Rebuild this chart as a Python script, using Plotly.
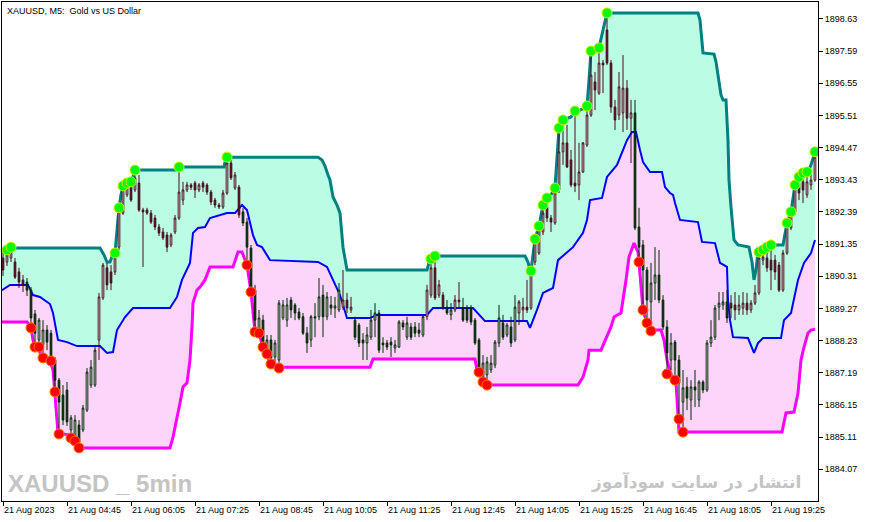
import numpy as np
import plotly.graph_objects as go

# ---------------- data ----------------
tick_pos = [0, 16, 32, 48, 64, 80, 96, 112, 128, 144, 160, 176, 192]
tick_labels = ["21 Aug 2023", "21 Aug 04:45", "21 Aug 06:05", "21 Aug 07:25", "21 Aug 08:45",
               "21 Aug 10:05", "21 Aug 11:25", "21 Aug 12:45", "21 Aug 14:05", "21 Aug 15:25",
               "21 Aug 16:45", "21 Aug 18:05", "21 Aug 19:25"]
price_ticks = [1884.07, 1885.11, 1886.15, 1887.19, 1888.23, 1889.27, 1890.31, 1891.35,
               1892.39, 1893.43, 1894.47, 1895.51, 1896.55, 1897.59, 1898.63]

bars = list(range(204))

opens = [
1890.90, 1890.77, 1890.90, 1890.77, 1890.45, 1890.19, 1890.12, 1889.86, 1889.09, 1888.25,
1888.09, 1888.57, 1888.47, 1887.60, 1886.95, 1886.47, 1886.63, 1885.34, 1885.08, 1885.50,
1885.34, 1885.98, 1886.79, 1886.79, 1888.25, 1889.61, 1890.58, 1890.45, 1890.45, 1891.25,
1892.35, 1892.94, 1893.29, 1893.10, 1893.32, 1892.45, 1892.45, 1892.35, 1892.19, 1891.90,
1891.74, 1891.64, 1891.32, 1891.74, 1892.19, 1892.77, 1893.10, 1893.26, 1893.32, 1893.10,
1893.32, 1893.26, 1893.03, 1892.77, 1892.61, 1892.55, 1893.00, 1893.97, 1893.16, 1893.19,
1892.39, 1892.06, 1891.22, 1889.86, 1888.57, 1888.89, 1887.92, 1888.25, 1887.70, 1887.60,
1888.96, 1888.89, 1889.54, 1889.38, 1889.15, 1889.00, 1888.47, 1888.25, 1889.00, 1889.00,
1889.70, 1889.00, 1889.38, 1889.28, 1889.22, 1889.31, 1889.54, 1889.22, 1888.89, 1888.73,
1888.25, 1888.15, 1888.34, 1888.89, 1889.12, 1888.15, 1888.15, 1888.18, 1887.99, 1888.02,
1888.80, 1888.34, 1888.67, 1888.67, 1888.57, 1888.41, 1889.00, 1889.70, 1890.58, 1889.70,
1889.70, 1889.31, 1889.06, 1889.22, 1889.54, 1889.28, 1889.28, 1889.28, 1888.89, 1888.25,
1887.05, 1887.12, 1887.28, 1887.44, 1888.15, 1888.80, 1888.41, 1888.67, 1888.25, 1889.12,
1889.22, 1889.31, 1889.28, 1890.77, 1891.06, 1891.74, 1892.55, 1892.19, 1892.03, 1893.10,
1894.33, 1894.62, 1894.07, 1893.32, 1893.26, 1893.68, 1894.55, 1895.52, 1896.59, 1896.23,
1897.20, 1898.27, 1897.20, 1895.78, 1895.52, 1895.59, 1896.39, 1895.42, 1895.59, 1891.90,
1891.32, 1890.51, 1889.48, 1890.09, 1890.35, 1889.54, 1888.67, 1887.60, 1888.18, 1887.60,
1886.24, 1886.73, 1886.31, 1886.73, 1886.31, 1886.89, 1886.63, 1888.15, 1888.34, 1889.31,
1889.38, 1889.48, 1889.44, 1889.38, 1889.22, 1889.28, 1889.44, 1889.22, 1889.44, 1889.77,
1890.83, 1890.90, 1890.83, 1890.83, 1890.67, 1889.86, 1891.06, 1891.87, 1892.39, 1893.32,
1893.36, 1892.94, 1893.26, 1893.42]

highs = [
1891.09, 1891.16, 1891.25, 1890.90, 1890.58, 1890.35, 1890.25, 1889.96, 1889.22, 1888.96,
1888.89, 1888.73, 1888.57, 1887.70, 1887.02, 1886.79, 1886.89, 1885.82, 1885.82, 1885.66,
1886.15, 1887.34, 1887.60, 1888.09, 1889.77, 1890.74, 1890.74, 1890.67, 1891.06, 1892.52,
1893.23, 1893.32, 1893.36, 1893.74, 1893.58, 1892.52, 1892.52, 1892.45, 1892.29, 1892.00,
1891.87, 1891.74, 1891.71, 1892.29, 1893.84, 1893.36, 1893.36, 1893.32, 1893.39, 1893.32,
1893.39, 1893.32, 1893.10, 1892.84, 1892.68, 1893.10, 1894.16, 1894.07, 1893.68, 1893.26,
1892.52, 1892.19, 1891.32, 1890.03, 1889.22, 1889.06, 1888.41, 1888.41, 1888.25, 1889.54,
1889.54, 1889.61, 1889.64, 1889.44, 1889.28, 1889.12, 1888.67, 1889.06, 1889.44, 1890.25,
1890.03, 1889.80, 1889.67, 1889.64, 1890.09, 1890.51, 1889.77, 1889.64, 1889.00, 1888.80,
1888.47, 1888.67, 1889.22, 1889.44, 1889.22, 1888.34, 1888.25, 1888.34, 1888.25, 1888.89,
1888.89, 1889.00, 1888.80, 1888.83, 1888.80, 1889.06, 1890.03, 1890.87, 1890.96, 1890.19,
1889.80, 1889.54, 1889.44, 1889.70, 1890.12, 1889.61, 1889.38, 1889.38, 1888.96, 1888.31,
1887.76, 1887.70, 1887.76, 1888.25, 1889.38, 1889.06, 1888.80, 1889.00, 1889.70, 1889.54,
1889.61, 1890.19, 1890.51, 1891.51, 1891.93, 1892.61, 1892.84, 1892.29, 1893.16, 1895.10,
1895.36, 1895.20, 1894.39, 1895.65, 1894.62, 1894.65, 1895.81, 1897.59, 1896.91, 1897.69,
1897.30, 1898.82, 1897.30, 1896.01, 1896.91, 1897.46, 1896.65, 1896.01, 1896.01, 1892.52,
1891.48, 1890.61, 1890.74, 1891.25, 1891.16, 1889.70, 1888.89, 1888.47, 1888.25, 1887.76,
1887.28, 1887.05, 1886.95, 1887.28, 1886.95, 1886.95, 1888.25, 1888.89, 1889.38, 1889.80,
1889.80, 1889.86, 1889.70, 1889.80, 1889.70, 1889.80, 1889.77, 1889.54, 1890.03, 1891.09,
1891.16, 1891.25, 1891.32, 1891.00, 1890.77, 1891.16, 1892.03, 1892.39, 1893.26, 1893.52,
1893.65, 1893.68, 1893.68, 1894.33]

lows = [
1890.32, 1890.64, 1890.77, 1890.22, 1889.93, 1889.80, 1889.67, 1888.64, 1888.02, 1888.02,
1887.67, 1887.92, 1887.54, 1886.57, 1885.21, 1885.50, 1885.47, 1885.08, 1884.98, 1884.76,
1885.27, 1885.92, 1886.70, 1886.73, 1887.60, 1889.54, 1889.86, 1889.86, 1890.35, 1891.16,
1892.29, 1892.87, 1892.71, 1893.03, 1892.39, 1890.61, 1892.29, 1892.00, 1891.80, 1891.61,
1891.48, 1891.09, 1891.25, 1891.67, 1892.13, 1892.61, 1893.03, 1893.10, 1892.84, 1893.03,
1893.03, 1892.94, 1892.61, 1892.52, 1892.48, 1892.48, 1892.94, 1893.42, 1893.10, 1892.19,
1891.93, 1890.67, 1889.80, 1888.51, 1888.44, 1887.99, 1887.76, 1887.47, 1887.54, 1887.34,
1888.89, 1888.67, 1888.96, 1888.89, 1888.89, 1888.41, 1887.83, 1888.02, 1888.34, 1888.89,
1888.34, 1888.89, 1889.06, 1888.96, 1889.15, 1889.22, 1889.12, 1889.12, 1888.25, 1888.02,
1887.60, 1887.60, 1888.25, 1888.34, 1887.83, 1887.83, 1887.92, 1887.70, 1887.83, 1887.99,
1888.57, 1888.25, 1888.25, 1888.34, 1888.34, 1888.34, 1888.89, 1889.61, 1889.54, 1889.61,
1889.22, 1889.06, 1888.89, 1889.15, 1889.31, 1888.83, 1888.80, 1888.73, 1888.09, 1887.21,
1886.89, 1886.79, 1887.18, 1887.34, 1888.02, 1888.25, 1888.34, 1888.02, 1888.18, 1888.73,
1888.89, 1889.12, 1889.22, 1890.67, 1891.00, 1891.64, 1892.06, 1891.74, 1891.97, 1893.00,
1893.91, 1893.81, 1893.19, 1893.03, 1892.77, 1893.65, 1894.49, 1895.46, 1895.68, 1896.17,
1896.23, 1897.14, 1895.59, 1895.04, 1895.36, 1894.97, 1895.04, 1893.97, 1891.80, 1890.77,
1889.22, 1888.80, 1888.54, 1889.54, 1889.44, 1888.57, 1887.15, 1887.28, 1886.95, 1885.69,
1885.27, 1885.98, 1885.66, 1886.08, 1886.08, 1886.53, 1886.57, 1888.02, 1888.25, 1888.89,
1889.22, 1888.80, 1888.96, 1888.89, 1889.06, 1889.06, 1889.06, 1889.12, 1889.38, 1889.70,
1890.67, 1890.45, 1889.86, 1890.19, 1889.80, 1889.80, 1891.00, 1891.80, 1892.29, 1892.77,
1892.68, 1892.84, 1893.10, 1893.36]

closes = [
1890.51, 1891.00, 1891.09, 1890.28, 1890.12, 1890.03, 1889.86, 1888.96, 1888.47, 1888.89,
1888.57, 1888.18, 1887.60, 1886.95, 1886.24, 1885.66, 1885.60, 1885.73, 1885.66, 1884.95,
1886.05, 1887.21, 1887.37, 1887.92, 1889.64, 1890.67, 1890.03, 1890.09, 1890.90, 1892.39,
1893.19, 1893.29, 1892.77, 1893.49, 1892.45, 1892.39, 1892.35, 1892.06, 1891.90, 1891.71,
1891.55, 1891.25, 1891.64, 1892.19, 1893.03, 1893.10, 1893.26, 1893.19, 1893.10, 1893.26,
1893.19, 1893.03, 1892.71, 1892.61, 1892.55, 1893.00, 1893.97, 1893.49, 1893.58, 1892.29,
1892.03, 1891.25, 1889.86, 1888.89, 1888.96, 1888.09, 1888.25, 1887.67, 1888.15, 1889.44,
1889.38, 1889.38, 1889.22, 1889.12, 1888.96, 1888.47, 1888.15, 1889.00, 1888.96, 1889.64,
1889.00, 1889.64, 1889.28, 1889.35, 1889.86, 1889.54, 1889.28, 1889.31, 1888.34, 1888.15,
1888.15, 1888.41, 1888.89, 1889.12, 1887.92, 1888.09, 1888.02, 1888.09, 1888.09, 1888.83,
1888.67, 1888.80, 1888.34, 1888.47, 1888.47, 1889.00, 1889.86, 1890.58, 1889.61, 1890.03,
1889.28, 1889.12, 1889.22, 1889.54, 1889.48, 1888.89, 1888.89, 1888.83, 1888.15, 1887.37,
1887.50, 1887.54, 1887.50, 1888.18, 1888.96, 1888.34, 1888.73, 1888.15, 1889.31, 1889.48,
1889.31, 1889.22, 1890.45, 1891.48, 1891.80, 1892.35, 1892.19, 1892.06, 1893.00, 1894.33,
1894.62, 1893.84, 1893.26, 1893.23, 1893.68, 1894.62, 1895.52, 1896.81, 1896.33, 1897.20,
1897.14, 1897.20, 1895.78, 1895.36, 1896.43, 1896.39, 1895.42, 1895.59, 1891.87, 1891.25,
1890.51, 1889.54, 1890.09, 1890.35, 1889.54, 1888.67, 1887.83, 1888.15, 1887.60, 1886.86,
1886.70, 1886.37, 1886.73, 1886.63, 1886.89, 1886.63, 1888.15, 1888.34, 1889.28, 1889.44,
1889.48, 1888.96, 1889.28, 1889.22, 1889.38, 1889.44, 1889.22, 1889.44, 1889.77, 1890.90,
1890.93, 1890.58, 1890.51, 1890.45, 1889.86, 1891.06, 1891.90, 1892.29, 1893.19, 1893.00,
1893.10, 1893.36, 1893.42, 1894.16]

# channel lines (bar position, price)
upper_x = [-0.25, 2.25, 24.25, 25.25, 26, 26.75, 27.5, 28, 28.5, 29, 29.5, 30, 31, 32, 32.5, 33,
           43.25, 43.75, 55.25, 55.5, 56, 78.75, 79.75, 80.5, 81.25, 81.75, 82.5, 83.5, 84.25,
           84.75, 85, 86, 106, 106.75, 108, 130.5, 131.25, 131.75, 132, 132.5, 133, 134, 135,
           136, 137, 138, 138.5, 139, 140, 141, 142, 143, 144.25, 145.5, 146, 146.5, 147, 148,
           149, 150, 151, 173.75, 174.25, 175, 177.75, 178.25, 178.75, 179.5, 180, 180.75,
           181.25, 181.5, 182, 182.75, 183.75, 186.5, 187.25, 187.75, 188.25, 188.75, 189.5,
           190.25, 191.25, 195, 196, 197, 198, 199, 200.25, 201.25, 202, 203]
upper_y = [1891.16, 1891.22, 1891.22, 1891.00, 1890.77, 1890.77, 1891.03, 1891.06, 1891.80,
           1892.52, 1892.94, 1893.23, 1893.32, 1893.36, 1893.52, 1893.74, 1893.74, 1893.84,
           1893.84, 1894.00, 1894.16, 1894.16, 1894.07, 1893.87, 1893.58, 1893.42, 1892.87,
           1892.61, 1892.35, 1891.64, 1891.25, 1890.51, 1890.51, 1890.87, 1890.96, 1890.96,
           1890.77, 1890.51, 1890.48, 1891.00, 1891.51, 1891.93, 1892.61, 1892.84, 1892.94,
           1893.16, 1894.07, 1895.10, 1895.36, 1895.42, 1895.46, 1895.65, 1895.68, 1895.75,
           1895.81, 1896.65, 1897.59, 1897.62, 1897.69, 1898.27, 1898.82, 1898.82, 1898.59,
           1897.53, 1897.49, 1897.24, 1896.75, 1896.17, 1896.01, 1896.01, 1894.71, 1893.42,
           1892.55, 1891.48, 1891.32, 1891.25, 1890.77, 1890.19, 1890.51, 1891.09, 1891.16,
           1891.25, 1891.32, 1891.32, 1892.03, 1892.39, 1893.26, 1893.52, 1893.65, 1893.68,
           1893.91, 1894.33]

mid_x = [-0.25, 1.75, 6.25, 7.5, 9.25, 11.75, 12.5, 13.75, 16, 18.5, 24.25, 26, 27.5, 28.5, 30.5,
         32.5, 41.75, 43.5, 44.75, 46.75, 47.5, 48.75, 50.5, 51.75, 56, 58, 59.75, 61, 62.5,
         63.5, 64.75, 66.75, 78.75, 81, 84.25, 86, 91.75, 93.5, 106, 107.5, 117.5, 120.5, 131,
         131.75, 133.5, 135, 137.5, 138.75, 142.5, 145, 146, 146.75, 149.75, 151, 153.5, 154.25,
         156, 157.25, 158.25, 159.25, 160, 161.75, 164.75, 165.5, 166.75, 167.5, 168, 169.25,
         173.75, 174.75, 178, 179.25, 181, 181.25, 181.75, 182.5, 186.25, 187.75, 188.75, 190,
         194.5, 195.25, 197, 198.75, 200.25, 202, 203]
mid_y = [1889.86, 1890.03, 1890.03, 1889.70, 1889.64, 1889.41, 1889.12, 1888.25, 1888.18, 1888.05,
         1888.05, 1887.83, 1887.86, 1888.57, 1888.99, 1889.28, 1889.28, 1889.64, 1890.19, 1890.74,
         1891.71, 1891.87, 1891.90, 1892.19, 1892.35, 1892.35, 1892.61, 1892.45, 1891.64, 1891.32,
         1891.25, 1890.83, 1890.77, 1890.61, 1889.70, 1888.96, 1888.96, 1889.06, 1889.06, 1889.28,
         1889.28, 1888.86, 1888.86, 1888.64, 1889.22, 1889.77, 1889.93, 1890.83, 1891.25, 1891.71,
         1892.13, 1892.77, 1892.84, 1893.52, 1893.91, 1894.16, 1894.71, 1894.97, 1894.97, 1894.39,
         1894.00, 1893.68, 1893.68, 1893.19, 1893.00, 1892.94, 1892.68, 1892.13, 1892.06, 1891.42,
         1891.38, 1890.74, 1890.61, 1889.54, 1888.89, 1888.34, 1888.31, 1887.83, 1888.15, 1888.31,
         1888.31, 1888.89, 1889.12, 1890.19, 1890.74, 1891.06, 1891.48]

lower_x = [-0.25, 6, 7, 7.5, 8, 8.75, 9.75, 11.75, 12.5, 13, 13.5, 13.75, 16.25, 16.75, 18, 19,
           41.75, 42.5, 44.25, 45, 46, 46.75, 47.25, 47.5, 48.5, 49.25, 50.5, 51.75, 57.5, 58.75,
           59.75, 61, 62, 63, 64, 65, 66, 66.75, 68.75, 91.75, 92.5, 118, 118.5, 119, 120, 121,
           143.75, 145, 146.25, 146.5, 149.5, 150.25, 152, 152.75, 154.5, 155.75, 156.5, 157.75,
           158.75, 159, 160, 161, 162, 164.5, 165.25, 166, 167, 168.25, 168.75, 169, 170, 194.75,
           195.75, 197.75, 198.75, 199.5, 200.25, 201.25, 202, 203]
lower_y = [1888.83, 1888.83, 1888.64, 1888.25, 1888.02, 1888.02, 1887.67, 1887.57, 1887.28, 1886.57,
           1885.66, 1885.24, 1885.18, 1885.08, 1884.98, 1884.76, 1884.76, 1885.11, 1886.21, 1886.73,
           1886.86, 1887.60, 1888.67, 1889.44, 1889.86, 1889.96, 1890.19, 1890.61, 1890.61, 1891.09,
           1891.09, 1890.67, 1889.80, 1888.51, 1888.47, 1888.02, 1887.80, 1887.47, 1887.37, 1887.37,
           1887.63, 1887.63, 1887.28, 1887.21, 1886.89, 1886.79, 1886.79, 1887.05, 1887.60, 1887.92,
           1887.92, 1888.15, 1888.67, 1888.99, 1889.12, 1890.19, 1890.93, 1891.38, 1891.09, 1890.77,
           1889.22, 1888.77, 1888.57, 1888.57, 1888.25, 1887.60, 1887.12, 1886.89, 1885.89, 1885.27,
           1885.27, 1885.27, 1885.89, 1885.92, 1886.53, 1887.60, 1888.02, 1888.47, 1888.57, 1888.60]

# signal dots
green_x = [1, 2, 28, 29, 30, 31, 32, 33, 44, 56, 107, 108, 132, 133, 134, 135, 136, 138, 139, 140,
           143, 146, 147, 149, 151, 189, 190, 191, 192, 196, 197, 198, 199, 200, 201, 203]
green_y = [1891.16, 1891.25, 1891.06, 1892.52, 1893.23, 1893.32, 1893.36, 1893.74, 1893.84, 1894.16,
           1890.87, 1890.96, 1890.48, 1891.51, 1891.93, 1892.61, 1892.84, 1893.16, 1895.10, 1895.36,
           1895.65, 1895.81, 1897.59, 1897.69, 1898.82, 1891.09, 1891.16, 1891.25, 1891.32, 1892.03,
           1892.39, 1893.26, 1893.52, 1893.65, 1893.68, 1894.33]
red_x = [7, 8, 9, 10, 12, 13, 14, 17, 18, 19, 61, 62, 63, 64, 65, 66, 67, 69, 119, 120, 121,
         159, 160, 161, 162, 166, 168, 169, 170]
red_y = [1888.64, 1888.02, 1888.02, 1887.67, 1887.57, 1886.57, 1885.21, 1885.08, 1884.98, 1884.76,
         1890.67, 1889.80, 1888.51, 1888.47, 1888.02, 1887.80, 1887.47, 1887.34, 1887.21, 1886.89,
         1886.79, 1890.77, 1889.22, 1888.80, 1888.54, 1887.15, 1886.95, 1885.69, 1885.27]

# ---------------- figure ----------------
X_RANGE = [-0.25, 203.75]
Y_RANGE = [1883.043, 1899.175]
TICK_FONT = dict(family="Liberation Sans, Arial, sans-serif", size=9, color="black")

fig = go.Figure()

# channel (bottom layer)
fig.add_trace(go.Scatter(x=upper_x, y=upper_y, mode="lines",
                         line=dict(color="#008080", width=3), hoverinfo="skip"))
fig.add_trace(go.Scatter(x=mid_x, y=mid_y, mode="lines", fill="tonexty", fillcolor="#bbfde4",
                         line=dict(color="#0000ff", width=2), hoverinfo="skip"))
fig.add_trace(go.Scatter(x=lower_x, y=lower_y, mode="lines", fill="tonexty", fillcolor="#fdd5fb",
                         line=dict(color="#ff00ff", width=3), hoverinfo="skip"))

# candles on overlay axes (above the channel)
idx = np.array(bars)
o = np.array(opens); h = np.array(highs); l = np.array(lows); c = np.array(closes)
mid_at = np.interp(idx, mid_x, mid_y)
upper_zone = (o + c) / 2 >= mid_at
for mask, col in [(upper_zone, "#4b0b1d"), (~upper_zone, "#032a05")]:
    fig.add_trace(go.Candlestick(
        x=idx[mask], open=o[mask], high=h[mask], low=l[mask], close=c[mask],
        xaxis="x2", yaxis="y2", whiskerwidth=0, hoverinfo="skip",
        increasing=dict(line=dict(color=col, width=1), fillcolor="white"),
        decreasing=dict(line=dict(color=col, width=1), fillcolor=col)))

fig.add_trace(go.Scatter(x=green_x, y=green_y, mode="markers", xaxis="x2", yaxis="y2",
                         marker=dict(size=10, color="#00ff00", line=dict(color="#c8f000", width=1)),
                         hoverinfo="skip"))
fig.add_trace(go.Scatter(x=red_x, y=red_y, mode="markers", xaxis="x2", yaxis="y2",
                         marker=dict(size=10, color="#ff0000", line=dict(color="#ff7000", width=1)),
                         hoverinfo="skip"))

fig.update_layout(
    width=871, height=522,
    margin=dict(l=2, r=53, t=2, b=21),
    paper_bgcolor="white", plot_bgcolor="white",
    showlegend=False, hovermode=False, boxgap=0.4,
    xaxis=dict(range=X_RANGE, tickvals=tick_pos, ticktext=tick_labels, ticks="outside",
               ticklen=4, tickcolor="black", showgrid=False, zeroline=False, showline=True,
               linecolor="black", linewidth=1, mirror=True, ticklabelposition="outside right",
               tickfont=TICK_FONT, fixedrange=True),
    yaxis=dict(range=Y_RANGE, side="right", tickvals=price_ticks,
               ticktext=[f"{v:.2f}" for v in price_ticks], ticks="outside", ticklen=4,
               tickcolor="black", showgrid=False, zeroline=False, showline=True,
               linecolor="black", linewidth=1, mirror=True, tickfont=TICK_FONT, fixedrange=True),
    xaxis2=dict(range=X_RANGE, overlaying="x", visible=False, rangeslider=dict(visible=False),
                fixedrange=True),
    yaxis2=dict(range=Y_RANGE, overlaying="y", visible=False, fixedrange=True),
)

fig.add_annotation(text="XAUUSD, M5:\u00a0 Gold vs US Dollar", xref="paper", yref="paper",
                   x=0, y=1, xanchor="left", yanchor="top", xshift=3, yshift=-2,
                   showarrow=False, font=TICK_FONT)
fig.add_annotation(text="<b>XAUUSD _ 5min</b>", xref="paper", yref="paper",
                   x=0, y=0.036, xanchor="left", yanchor="middle", xshift=4, showarrow=False,
                   font=dict(family="Liberation Sans Narrow, Arial Narrow, Liberation Sans, sans-serif",
                             size=24, color="#c4c4c4"))
fig.add_annotation(text="<b>انتشار در سایت سودآموز</b>", xref="paper", yref="paper",
                   x=0.9816, y=0.038, xanchor="right", yanchor="middle", showarrow=False,
                   font=dict(family="DejaVu Sans, sans-serif", size=17, color="#c4c4c4"))

fig.write_html("out.html", config={"displayModeBar": False},
               post_script="document.body.style.margin='0';")
